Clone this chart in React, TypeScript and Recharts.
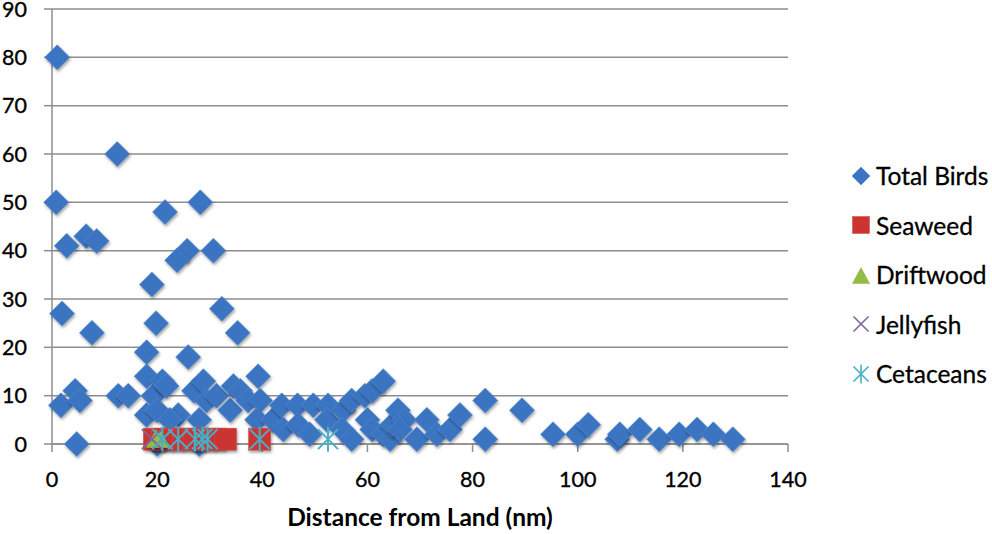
import React from 'react';
import { ScatterChart, Scatter, XAxis, YAxis, CartesianGrid, Legend } from 'recharts';

const xTicks = [0, 20, 40, 60, 80, 100, 120, 140];
const yTicks = [0, 10, 20, 30, 40, 50, 60, 70, 80, 90];

const totalBirds = [
  { x: 1, y: 80 }, { x: 12.4, y: 60 }, { x: 0.8, y: 50 }, { x: 21.5, y: 48 }, { x: 28.2, y: 50 },
  { x: 2.8, y: 41 }, { x: 6.5, y: 43 }, { x: 8.5, y: 42 }, { x: 25.7, y: 40 }, { x: 23.8, y: 38 },
  { x: 30.7, y: 40 }, { x: 19, y: 33 }, { x: 32.3, y: 28 }, { x: 19.8, y: 25 }, { x: 1.9, y: 27 },
  { x: 7.6, y: 23 }, { x: 35.3, y: 23 }, { x: 18, y: 19 }, { x: 25.9, y: 18 }, { x: 1.7, y: 8 },
  { x: 4.4, y: 11 }, { x: 5.3, y: 9 }, { x: 4.7, y: 0 }, { x: 12.6, y: 10 }, { x: 14.5, y: 10 },
  { x: 18, y: 14 }, { x: 19.3, y: 10 }, { x: 21, y: 13 }, { x: 21.8, y: 12 }, { x: 18, y: 6 },
  { x: 20, y: 7 }, { x: 24, y: 6 }, { x: 22.4, y: 5 }, { x: 27, y: 11 }, { x: 28.8, y: 13 },
  { x: 29.4, y: 9 }, { x: 31.3, y: 10 }, { x: 28, y: 5 }, { x: 33.9, y: 7 }, { x: 34.5, y: 12 },
  { x: 35.8, y: 11 }, { x: 37.3, y: 9 }, { x: 39.2, y: 14 }, { x: 39.6, y: 9 }, { x: 39, y: 5 },
  { x: 42, y: 5 }, { x: 43.7, y: 8 }, { x: 44, y: 3 }, { x: 46.7, y: 8 }, { x: 46.8, y: 4 },
  { x: 49.7, y: 8 }, { x: 52.5, y: 8 }, { x: 52.3, y: 5 }, { x: 55.4, y: 7 }, { x: 49, y: 2 },
  { x: 55.2, y: 3 }, { x: 57, y: 9 }, { x: 57, y: 1 }, { x: 59.5, y: 10 }, { x: 60.9, y: 11 },
  { x: 63, y: 13 }, { x: 60, y: 5 }, { x: 60.9, y: 3 }, { x: 63, y: 2 }, { x: 64.3, y: 1 },
  { x: 64.7, y: 4 }, { x: 65.8, y: 7 }, { x: 67, y: 5 }, { x: 66.2, y: 3 }, { x: 69.4, y: 1 },
  { x: 71.3, y: 5 }, { x: 73.2, y: 2 }, { x: 75.7, y: 3 }, { x: 77.6, y: 6 }, { x: 82.4, y: 9 },
  { x: 82.4, y: 1 }, { x: 89.4, y: 7 }, { x: 95.3, y: 2 }, { x: 100, y: 2 }, { x: 102, y: 4 },
  { x: 107.5, y: 1 }, { x: 108, y: 2 }, { x: 111.8, y: 3 }, { x: 115.5, y: 1 }, { x: 119.3, y: 2 },
  { x: 122.7, y: 3 }, { x: 125.8, y: 2 }, { x: 129.5, y: 1 }, { x: 20, y: 0 }, { x: 28, y: 0 },
];

const seaweed = [
  { x: 19.5, y: 1 }, { x: 21, y: 1 }, { x: 23, y: 1 }, { x: 25, y: 1 }, { x: 27, y: 1 },
  { x: 29, y: 1 }, { x: 31, y: 1 }, { x: 33, y: 1 }, { x: 39.5, y: 1 },
];

const driftwood = [{ x: 19.8, y: 1 }, { x: 20.6, y: 1 }];

const jellyfish = [{ x: 19, y: 1 }, { x: 21, y: 1 }, { x: 28.5, y: 1 }];

const cetaceans = [
  { x: 21, y: 1 }, { x: 24, y: 1 }, { x: 27.2, y: 1 }, { x: 28.6, y: 1 }, { x: 29.6, y: 1 },
  { x: 39.5, y: 1 }, { x: 52.5, y: 1 },
];

const BLUE = '#3b74c1';
const RED = '#cc3431';
const GREEN = '#93bb45';
const PURPLE = '#8064a2';
const CYAN = '#45b0c8';
const FONT = 'Lato, "Open Sans", sans-serif';
const SHADOW = 'drop-shadow(1px 2px 1.5px rgba(0,0,0,0.35))';

const diamond = (r: number, cx: number, cy: number, shadow = true) => (
  <polygon
    points={`${cx},${cy - r} ${cx + r},${cy} ${cx},${cy + r} ${cx - r},${cy}`}
    fill={BLUE}
    stroke="#5a8fd6"
    strokeWidth={0.6}
    style={shadow ? { filter: SHADOW } : undefined}
  />
);
const square = (h: number, cx: number, cy: number, shadow = true) => (
  <rect x={cx - h} y={cy - h} width={2 * h} height={2 * h} fill={RED} stroke="#d9524e" strokeWidth={0.6}
    style={shadow ? { filter: SHADOW } : undefined} />
);
const triangle = (r: number, cx: number, cy: number, shadow = true) => (
  <polygon points={`${cx},${cy - r} ${cx + r},${cy + r * 0.85} ${cx - r},${cy + r * 0.85}`} fill={GREEN}
    style={shadow ? { filter: SHADOW } : undefined} />
);
const cross = (r: number, cx: number, cy: number, w: number) => (
  <g stroke={PURPLE} strokeWidth={w} fill="none">
    <line x1={cx - r} y1={cy - r} x2={cx + r} y2={cy + r} />
    <line x1={cx - r} y1={cy + r} x2={cx + r} y2={cy - r} />
  </g>
);
const star = (r: number, cx: number, cy: number, w: number) => (
  <g stroke={CYAN} strokeWidth={w} fill="none">
    <line x1={cx - r} y1={cy - r} x2={cx + r} y2={cy + r} />
    <line x1={cx - r} y1={cy + r} x2={cx + r} y2={cy - r} />
    <line x1={cx} y1={cy - r * 1.25} x2={cx} y2={cy + r * 1.25} />
  </g>
);

const legendItems = [
  { name: 'Total Birds', icon: (c: number) => diamond(9, c, c, false) },
  { name: 'Seaweed', icon: (c: number) => square(8.5, c, c, false) },
  { name: 'Driftwood', icon: (c: number) => triangle(9, c, c + 1, false) },
  { name: 'Jellyfish', icon: (c: number) => cross(7.5, c, c, 1.6) },
  { name: 'Cetaceans', icon: (c: number) => star(7.5, c, c, 1.6) },
];

const renderLegend = () => (
  <div style={{ fontFamily: FONT, fontSize: 24.5, color: '#000', WebkitTextStroke: '0.3px #000' }}>
    {legendItems.map((it) => (
      <div key={it.name} style={{ display: 'flex', alignItems: 'center', height: 49.5 }}>
        <svg width={22} height={22} style={{ marginRight: 4 }}>
          {it.icon(11)}
        </svg>
        <span style={{ whiteSpace: 'nowrap' }}>{it.name}</span>
      </div>
    ))}
  </div>
);

export default function App() {
  const tickStyle = { fontFamily: FONT, fontSize: 21.5, fill: '#000', stroke: '#000', strokeWidth: 0.35 };
  return (
    <div style={{ position: 'absolute', left: 0, top: 0, width: 992, height: 534, background: '#fff' }}>
      <ScatterChart width={992} height={534} margin={{ top: 9, right: 204, bottom: 0, left: 0 }}>
        <CartesianGrid horizontal vertical={false} stroke="#8e8e8e" strokeWidth={1.5} />
        <XAxis
          type="number"
          dataKey="x"
          domain={[0, 140]}
          ticks={xTicks}
          interval={0}
          height={90}
          tickSize={8}
          tickMargin={20}
          tick={tickStyle}
          axisLine={{ stroke: '#8e8e8e', strokeWidth: 1.5 }}
          tickLine={{ stroke: '#8e8e8e', strokeWidth: 1.5 }}
          label={{
            value: 'Distance from Land (nm)',
            position: 'insideBottom',
            offset: 8,
            style: { fontFamily: FONT, fontSize: 24.5, fontWeight: 700, fill: '#000' },
          }}
        />
        <YAxis
          type="number"
          dataKey="y"
          domain={[0, 90]}
          ticks={yTicks}
          interval={0}
          width={52}
          tickSize={8}
          tickMargin={17}
          tick={tickStyle}
          axisLine={{ stroke: '#8e8e8e', strokeWidth: 1.5 }}
          tickLine={{ stroke: '#8e8e8e', strokeWidth: 1.5 }}
        />
        <Legend
          layout="vertical"
          align="center"
          verticalAlign="middle"
          wrapperStyle={{ left: 850, top: 151, width: 142 }}
          content={renderLegend}
        />
        <Scatter name="Total Birds" data={totalBirds} isAnimationActive={false}
          shape={(p: any) => diamond(12.5, p.cx, p.cy)} />
        <Scatter name="Seaweed" data={seaweed} isAnimationActive={false}
          shape={(p: any) => square(11, p.cx, p.cy)} />
        <Scatter name="Driftwood" data={driftwood} isAnimationActive={false}
          shape={(p: any) => triangle(10, p.cx, p.cy)} />
        <Scatter name="Jellyfish" data={jellyfish} isAnimationActive={false}
          shape={(p: any) => cross(10, p.cx, p.cy, 2)} />
        <Scatter name="Cetaceans" data={cetaceans} isAnimationActive={false}
          shape={(p: any) => star(10, p.cx, p.cy, 2)} />
      </ScatterChart>
    </div>
  );
}
